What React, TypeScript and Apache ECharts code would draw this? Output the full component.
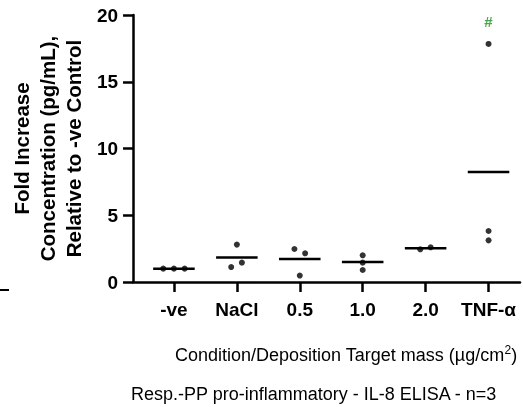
import React, { useEffect, useRef } from "react";
import * as echarts from "echarts";

const categories = ["-ve", "NaCl", "0.5", "1.0", "2.0", "TNF-α"];
const pointValues: number[][] = [
  [1.0, 1.0, 1.0],
  [1.12, 1.45, 2.8],
  [2.47, 2.15, 0.48],
  [2.0, 1.45, 0.9],
  [2.45, 2.6],
  [17.83, 3.82, 3.12],
];
const jitter: number[][] = [
  [-0.17, 0, 0.17],
  [-0.09, 0.08, 0],
  [-0.085, 0.085, 0],
  [0, 0, 0],
  [-0.085, 0.08],
  [0, 0, 0],
];
const means = [1.0, 1.83, 1.72, 1.5, 2.52, 8.24];
const sigLabel = "#";
const sigValue = 19.5;
const sigIndex = 5;

const FONT = 'Arial, "Liberation Sans", sans-serif';

export default function App() {
  const ref = useRef<HTMLDivElement>(null);
  useEffect(() => {
    if (!ref.current) return;
    const chart = echarts.init(ref.current, null, { renderer: "svg" });
    const pos = categories.map((_, i) => i + 1);
    const scatterData: number[][] = [];
    pointValues.forEach((vals, i) => {
      vals.forEach((v, j) => scatterData.push([pos[i] + jitter[i][j], v]));
    });
    const meanData = means.map((m, i) => [pos[i], m]);
    chart.setOption({
      animation: false,
      grid: { left: 132, right: 3, top: 15, bottom: 125, containLabel: false },
      xAxis: {
        type: "value",
        min: 0.35,
        max: 6.5,
        splitLine: { show: false },
        axisLine: { lineStyle: { color: "#000", width: 2.5 } },
        axisTick: {
          show: true,
          length: 10,
          lineStyle: { color: "#000", width: 2.5 },
          customValues: pos,
        },
        axisLabel: {
          customValues: pos,
          formatter: (v: number) => categories[Math.round(v) - 1] ?? "",
          color: "#000",
          fontFamily: FONT,
          fontWeight: "bold",
          fontSize: 19,
          margin: 18,
        },
      },
      yAxis: {
        type: "value",
        min: 0,
        max: 20,
        interval: 5,
        splitLine: { show: false },
        axisLine: { show: true, lineStyle: { color: "#000", width: 2.5 } },
        axisTick: { show: true, length: 10, lineStyle: { color: "#000", width: 2.5 } },
        axisLabel: {
          color: "#000",
          fontFamily: FONT,
          fontWeight: "bold",
          fontSize: 19,
          margin: 15,
        },
        name: "Fold Increase\nConcentration (pg/mL),\nRelative to -ve Control",
        nameLocation: "middle",
        nameGap: 45,
        nameTextStyle: {
          color: "#000",
          fontFamily: FONT,
          fontWeight: "bold",
          fontSize: 20.5,
          lineHeight: 26,
        },
      },
      series: [
        {
          type: "scatter",
          data: scatterData,
          symbol: "circle",
          symbolSize: 6,
          itemStyle: { color: "#000" },
          z: 3,
        },
        {
          type: "custom",
          data: meanData,
          renderItem: (params: any, api: any) => {
            const x = api.value(0);
            const y = api.value(1);
            const p1 = api.coord([x - 0.33, y]);
            const p2 = api.coord([x + 0.33, y]);
            return {
              type: "line",
              shape: { x1: p1[0], y1: p1[1], x2: p2[0], y2: p2[1] },
              style: { stroke: "#000", lineWidth: 2.5 },
            };
          },
          z: 2,
        },
        {
          type: "scatter",
          data: [[pos[sigIndex], sigValue]],
          symbolSize: 0,
          label: {
            show: true,
            position: "inside",
            formatter: sigLabel,
            color: "#1a8f1a",
            fontFamily: FONT,
            fontWeight: "bold",
            fontSize: 15,
          },
        },
      ],
      graphic: [
        {
          type: "text",
          left: 175,
          top: 344,
          style: {
            text: "Condition/Deposition Target mass (µg/cm{sup|2})",
            fontFamily: FONT,
            fontSize: 18,
            fill: "#000",
            rich: {
              sup: { fontSize: 12, verticalAlign: "top", padding: [0, 0, 9, 0], fontFamily: FONT, fill: "#000" },
            },
          },
        },
        {
          type: "text",
          left: 131,
          top: 385,
          style: {
            text: "Resp.-PP pro-inflammatory - IL-8 ELISA - n=3",
            fontFamily: FONT,
            fontSize: 18,
            fill: "#000",
          },
        },
        {
          type: "line",
          shape: { x1: 0, y1: 290, x2: 9, y2: 290 },
          style: { stroke: "#000", lineWidth: 2 },
        },
      ],
    });
    return () => chart.dispose();
  }, []);
  return <div ref={ref} style={{ width: 523, height: 407, position: "fixed", left: 0, top: 0 }} />;
}
